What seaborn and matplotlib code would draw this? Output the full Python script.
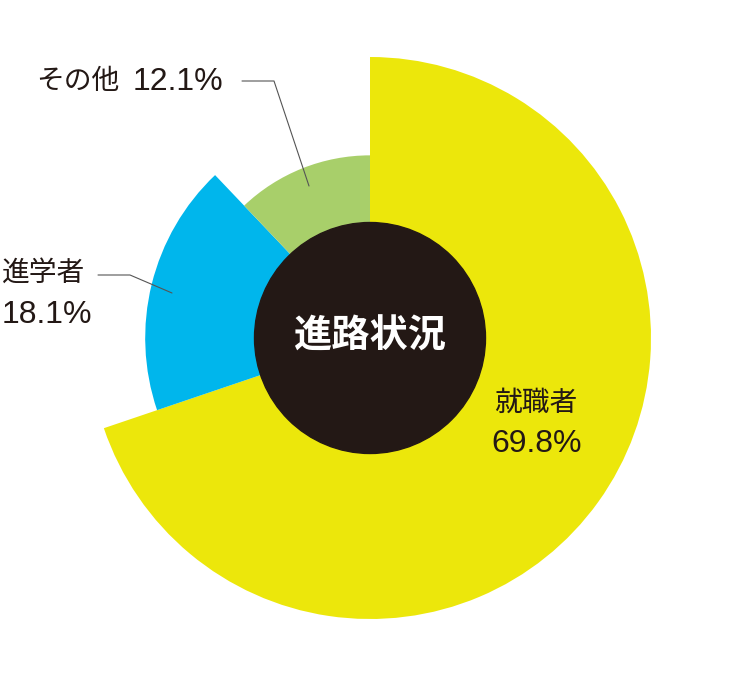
import numpy as np
import matplotlib
matplotlib.use('Agg')
import matplotlib.pyplot as plt
import seaborn as sns

# データ
categories = ['就職者', '進学者', 'その他']
shares = [69.8, 18.1, 12.1]
center_title = '進路状況'

# 見た目の設定
colors = ['#ECE70B', '#00B6EC', '#A8CF6A']
radii = [1.0, 0.80, 0.65]  # 外周の半径（就職者=1）
hole_r = 0.411
ink = '#231815'

sns.set_theme(style='white')
plt.rcParams['font.family'] = ['Noto Sans CJK JP', 'DejaVu Sans']
num_font = ['Liberation Sans', 'DejaVu Sans']

fig = plt.figure(figsize=(7.41, 6.77), dpi=100)
ax = fig.add_axes([0, 0, 1, 1])

wedges, _ = ax.pie(shares, colors=colors, startangle=90, counterclock=False,
                   radius=1.0, wedgeprops=dict(linewidth=0))
for w, r in zip(wedges, radii):
    w.set_radius(r)

# 中央の円
ax.add_patch(plt.Circle((0, 0), hole_r, color=ink, zorder=3))

scale = 281.0  # px per unit
cx, cy = 370.0, 338.0


def px(x, y):
    return ((x - cx) / scale, (cy - y) / scale)


ax.text(*px(370, 336), center_title, ha='center', va='center', color='white',
        fontsize=27.5, fontweight='bold', zorder=4)

lab = dict(fontsize=20, color=ink)
num = dict(fontsize=23, color=ink, family=num_font)
lc = '#555555'

# その他
pts = [px(242, 81), px(274, 81), px(309, 186)]
ax.plot([p[0] for p in pts], [p[1] for p in pts], color=lc, lw=0.8, zorder=5)
ax.text(*px(119, 81), categories[2], ha='right', va='center', **lab)
ax.text(*px(133, 82), f'{shares[2]:.1f}%', ha='left', va='center', **num)

# 進学者
pts = [px(98, 275), px(130, 275), px(172, 293)]
ax.plot([p[0] for p in pts], [p[1] for p in pts], color=lc, lw=0.8, zorder=5)
ax.text(*px(2, 273), categories[1], ha='left', va='center', **lab)
ax.text(*px(2, 315), f'{shares[1]:.1f}%', ha='left', va='center', **num)

# 就職者
ax.text(*px(536, 403), categories[0], ha='center', va='center', **lab)
ax.text(*px(537, 444), f'{shares[0]:.1f}%', ha='center', va='center', **num)

ax.set_xlim(-cx / scale, (741 - cx) / scale)
ax.set_ylim(-(677 - cy) / scale, cy / scale)
ax.set_aspect('equal')
ax.axis('off')

fig.savefig('out.png', dpi=100, facecolor='white')
